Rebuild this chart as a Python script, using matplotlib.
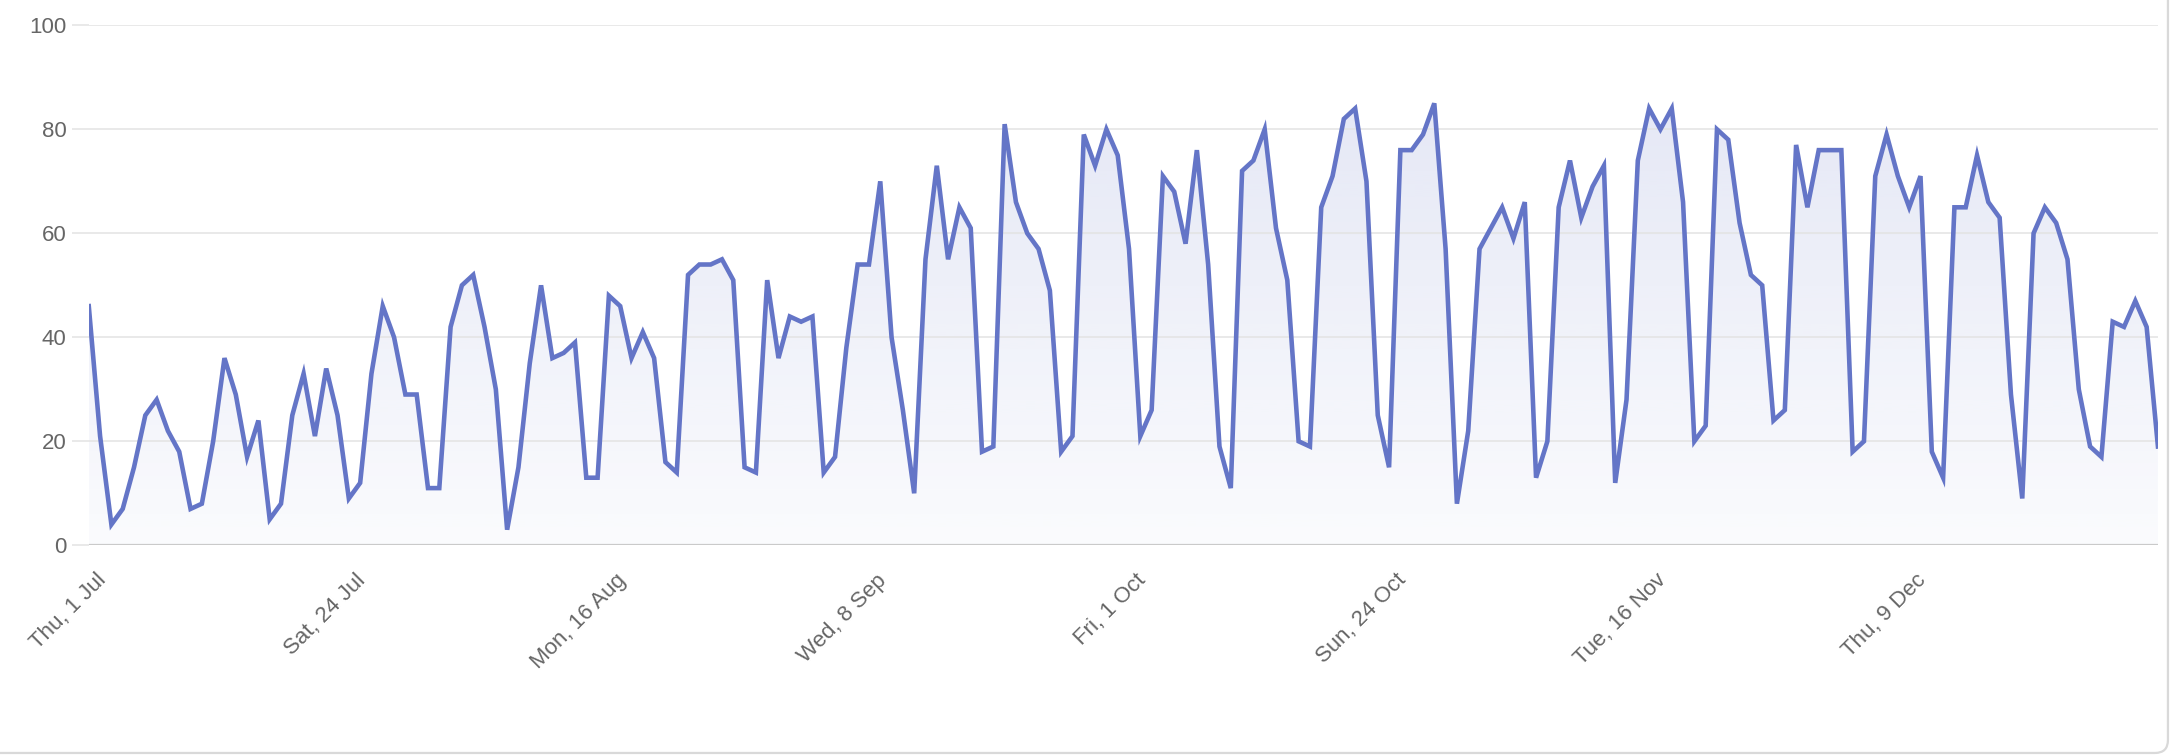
import matplotlib
matplotlib.use("Agg")
import matplotlib.pyplot as plt
import matplotlib.dates as mdates
from matplotlib.patches import FancyBboxPatch
from matplotlib.transforms import ScaledTranslation
import numpy as np
import pandas as pd

# daily values, Thu 1 Jul 2021 -> Fri 31 Dec 2021
start_date = "2021-07-01"
values = [
    46, 21, 4, 7, 15, 25, 28, 22, 18, 7, 8, 20, 36, 29, 17, 24, 5, 8, 25, 33,
    21, 34, 25, 9, 12, 33, 46, 40, 29, 29, 11, 11, 42, 50, 52, 42, 30, 3, 15, 35,
    50, 36, 37, 39, 13, 13, 48, 46, 36, 41, 36, 16, 14, 52, 54, 54, 55, 51, 15, 14,
    51, 36, 44, 43, 44, 14, 17, 38, 54, 54, 70, 40, 26, 10, 55, 73, 55, 65, 61, 18,
    19, 81, 66, 60, 57, 49, 18, 21, 79, 73, 80, 75, 57, 21, 26, 71, 68, 58, 76, 54,
    19, 11, 72, 74, 80, 61, 51, 20, 19, 65, 71, 82, 84, 70, 25, 15, 76, 76, 79, 85,
    57, 8, 22, 57, 61, 65, 59, 66, 13, 20, 65, 74, 63, 69, 73, 12, 28, 74, 84, 80,
    84, 66, 20, 23, 80, 78, 62, 52, 50, 24, 26, 77, 65, 76, 76, 76, 18, 20, 71, 79,
    71, 65, 71, 18, 13, 65, 65, 75, 66, 63, 29, 9, 60, 65, 62, 55, 30, 19, 17, 43,
    42, 47, 42, 19,
]
y_ticks = [0, 20, 40, 60, 80, 100]
label_every = 23  # one x label every 23 days

LINE = "#6475c7"
GRID = "#e3e3e3"
TEXT = "#666666"

plt.rcParams["font.family"] = ["Liberation Sans", "DejaVu Sans"]

dates = pd.date_range(start_date, periods=len(values), freq="D")
x = mdates.date2num(dates.to_pydatetime())
y = np.asarray(values, dtype=float)

fig = plt.figure(figsize=(21.76, 7.56), dpi=100)

# card background with rounded border (only right/bottom edges visible)
card = FancyBboxPatch((-0.01, 0.004), 1.0063, 1.2,
                      boxstyle="round,pad=0,rounding_size=0.006",
                      mutation_aspect=2176 / 756,
                      transform=fig.transFigure, facecolor="white",
                      edgecolor="#d9d9d9", linewidth=1.6, zorder=-5)
fig.add_artist(card)

ax = fig.add_axes([0.0408, 0.2787, 0.9509, 0.6878])
ax.set_facecolor("none")
ax.set_zorder(1)

# gradient fill under the line
poly = ax.fill_between(x, y, 0, facecolor="none", edgecolor="none")
clip = poly.get_paths()[0]
ramp = np.linspace(0.03, 0.19, 256)[:, None]
rgba = np.zeros((256, 1, 4))
rgba[..., 0] = 100 / 255
rgba[..., 1] = 117 / 255
rgba[..., 2] = 199 / 255
rgba[..., 3] = ramp
im = ax.imshow(rgba, extent=[x[0], x[-1], 0, 100], origin="lower",
               aspect="auto", zorder=1, interpolation="bilinear")
im.set_clip_path(clip, transform=ax.transData)

ax.plot(x, y, color=LINE, lw=3.3, solid_joinstyle="miter", zorder=3)

ax.set_xlim(x[0], x[-1])
ax.set_ylim(0, 100)

ax.set_yticks(y_ticks)
ax.grid(axis="y", color=GRID, lw=1.1, zorder=0)
ax.axhline(0, color="#cacaca", lw=1.6, zorder=2)
ax.tick_params(axis="y", length=12, width=1.1, color=GRID, pad=4,
               labelsize=16, labelcolor=TEXT)

tick_idx = list(range(0, len(dates), label_every))
ax.set_xticks(x[tick_idx])
ax.set_xticklabels([f"{dates[i]:%a}, {dates[i].day} {dates[i]:%b}" for i in tick_idx],
                   rotation=45, ha="right", va="center", rotation_mode="anchor")
ax.tick_params(axis="x", length=0, pad=23, labelsize=16, labelcolor=TEXT)
shift = ScaledTranslation(14 / 100, 0, fig.dpi_scale_trans)
for lab in ax.get_xticklabels():
    lab.set_transform(lab.get_transform() + shift)

for s in ax.spines.values():
    s.set_visible(False)

fig.savefig("out.png", dpi=100)
